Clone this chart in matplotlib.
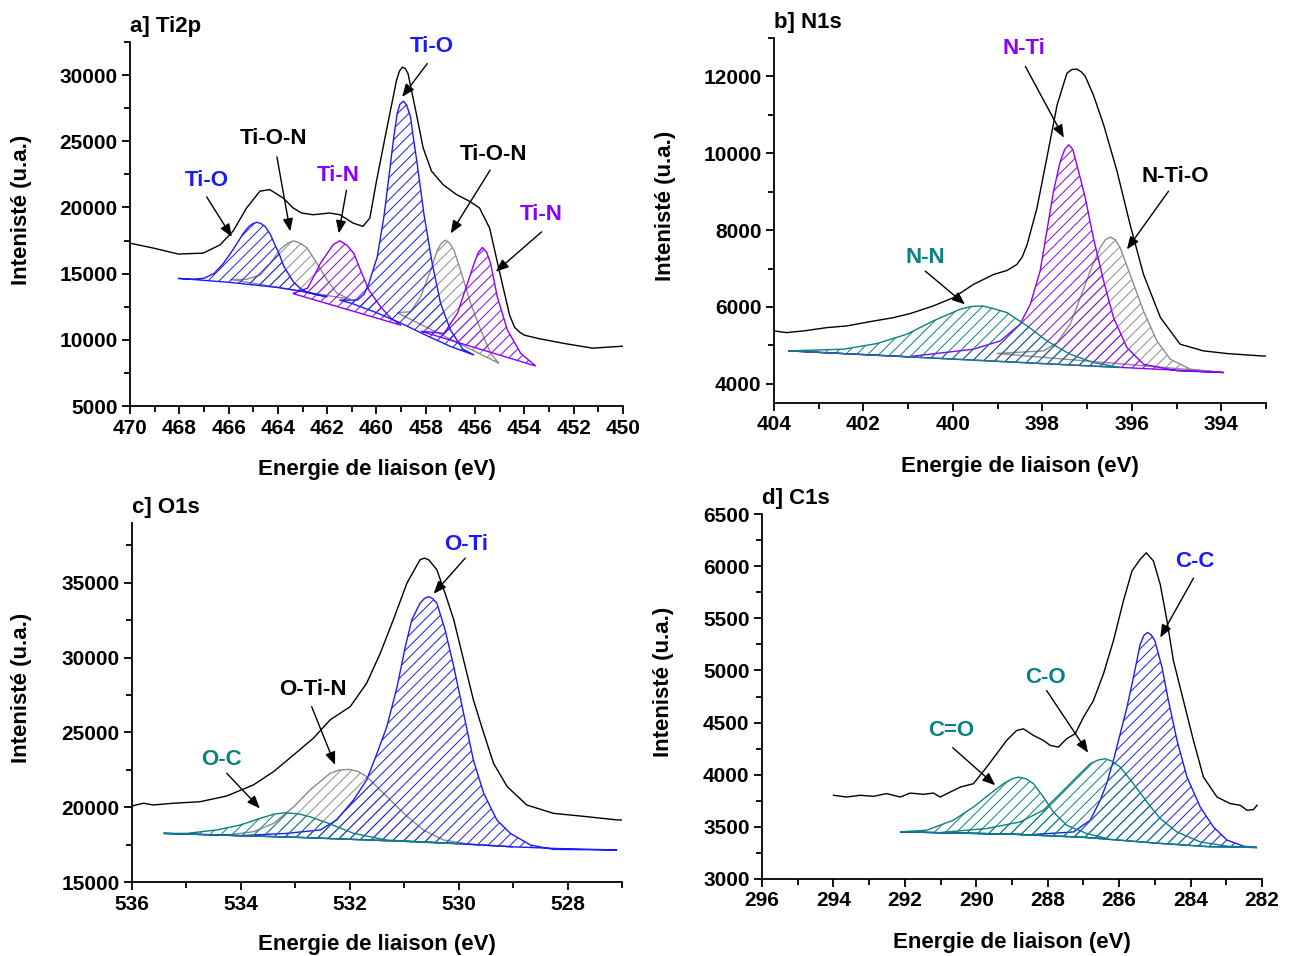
import numpy as np
import matplotlib
matplotlib.use('Agg')
import matplotlib.pyplot as plt
from matplotlib.ticker import MultipleLocator

# ---------------- data (read off the XPS fits) ----------------
# a] Ti2p
a_env_x = [470.0, 469.05, 468.04, 467.03, 466.35, 465.82, 465.27, 464.73, 464.33, 463.79, 463.38, 463.04,
           462.57, 461.90, 461.49, 460.95, 460.55, 460.27, 460.00, 459.60, 459.19, 459.07, 458.95, 458.83,
           458.72, 458.38, 458.11, 457.77, 457.30, 456.76, 456.23, 455.82, 455.41, 455.01, 454.60, 454.40,
           454.20, 454.0, 453.39, 452.31, 451.23, 450.0]
a_env_y = [17300, 16930, 16480, 16550, 17170, 18210, 19960, 21230, 21350, 20720, 19960, 19580,
           19450, 19580, 19450, 18820, 18570, 19200, 22000, 25790, 29590, 30300, 30600, 30500,
           30100, 27050, 24520, 22750, 21730, 20980, 20470, 19960, 18440, 15150, 11860, 10950,
           10590, 10350, 10080, 9700, 9370, 9520]
a_blue_base_x = [468.04, 466.0, 464.0, 463.0, 462.0, 461.0, 460.0, 459.0, 458.0, 457.0, 456.04]
a_blue_base_y = [14640, 14350, 13950, 13650, 13250, 12750, 12050, 11250, 10350, 9500, 8850]
a_tio1_x = [468.04, 467.5, 467.0, 466.6, 466.21, 465.9, 465.66, 465.4, 465.19, 465.0, 464.85, 464.7,
            464.51, 464.3, 464.17, 463.95, 463.77, 463.55, 463.36, 463.1, 462.82, 462.4, 462.0]
a_tio1_y = [14640, 14570, 14650, 15000, 15770, 16600, 17280, 18050, 18540, 18800, 18870, 18800,
            18540, 17950, 17380, 16500, 15600, 14900, 14350, 13900, 13600, 13400, 13250]
a_tio2_x = [461.5, 460.78, 460.5, 460.31, 459.97, 459.70, 459.43, 459.3, 459.16, 459.05, 458.91, 458.78,
            458.62, 458.5, 458.35, 458.08, 457.74, 457.40, 457.00, 456.50, 456.04]
a_tio2_y = [13000, 13000, 13450, 14260, 16270, 19290, 23320, 25300, 27100, 27800, 28030, 27750,
            26840, 25200, 23320, 19550, 15770, 12750, 10740, 9300, 8850]
a_gray1_base_x = [465.93, 461.06]
a_gray1_base_y = [14560, 13060]
a_tion1_x = [465.93, 465.3, 464.72, 464.31, 463.9, 463.6, 463.36, 463.1, 462.82, 462.41, 462.0, 461.6, 461.06]
a_tion1_y = [14560, 14560, 14890, 15770, 16850, 17300, 17480, 17300, 16950, 15770, 14510, 13510, 13060]
a_gray2_base_x = [459.16, 455.03]
a_gray2_base_y = [12050, 8220]
a_tion2_x = [459.16, 458.62, 458.21, 457.80, 457.53, 457.37, 457.2, 457.03, 456.86, 456.59, 456.18, 455.77,
             455.37, 455.03]
a_tion2_y = [12050, 12120, 13250, 15270, 16780, 17300, 17530, 17300, 16780, 15270, 12750, 10740,
             8980, 8220]
a_purple_base_x = [463.4, 459.0, 453.54]
a_purple_base_y = [13500, 11100, 8020]
a_tin1_x = [463.4, 462.8, 462.55, 462.28, 462.0, 461.75, 461.49, 461.2, 460.92, 460.65, 460.31, 459.84,
            459.4, 459.0]
a_tin1_y = [13500, 13900, 14760, 15770, 16530, 17200, 17480, 17150, 16530, 15270, 13760, 12500,
            11600, 11100]
a_tin2_x = [458.2, 457.26, 456.72, 456.31, 456.04, 455.87, 455.7, 455.53, 455.37, 455.1, 454.69, 454.15, 453.54]
a_tin2_y = [10650, 10490, 12000, 14260, 15770, 16600, 16980, 16600, 15770, 13250, 10740, 8980, 8020]
a_labels = ['Ti-O', 'Ti-O-N', 'Ti-N', 'Ti-O', 'Ti-O-N', 'Ti-N']
a_label_x = [466.89, 464.18, 461.55, 457.76, 455.26, 453.30]
a_label_y = [22060, 25210, 22440, 32180, 24030, 19500]
a_arrow_from = [(466.89, 20800), (464.04, 23820), (461.22, 21300), (457.94, 30870), (455.39, 22820), (453.30, 18160)]
a_arrow_to = [(465.87, 17780), (463.50, 18190), (461.53, 18040), (458.96, 28350), (456.99, 18040), (455.16, 15140)]

# b] N1s
b_env_x = [404.0, 403.72, 403.34, 402.82, 402.37, 401.85, 401.33, 400.96, 400.44, 399.99, 399.54, 399.09,
           398.79, 398.57, 398.45, 398.34, 398.12, 397.90, 397.67, 397.45, 397.34, 397.23, 397.13, 397.04,
           396.86, 396.63, 396.33, 396.04, 395.74, 395.36, 394.92, 394.40, 393.87, 393.13, 393.0]
b_env_y = [5376, 5332, 5376, 5462, 5506, 5618, 5722, 5826, 6026, 6241, 6587, 6846,
           6950, 7106, 7300, 7626, 8578, 9877, 11260, 12085, 12180, 12190, 12120, 12000,
           11520, 10740, 9530, 8150, 6850, 5722, 5030, 4857, 4787, 4727, 4720]
b_base_x = [403.68, 393.95]
b_base_y = [4857, 4293]
b_nn_x = [403.68, 402.45, 401.70, 401.03, 400.44, 399.84, 399.6, 399.35, 399.1, 398.79, 398.34, 397.90,
          397.38, 396.86, 396.26]
b_nn_y = [4857, 4900, 5047, 5290, 5636, 5940, 6010, 6026, 5960, 5852, 5506, 5117,
          4770, 4553, 4423]
b_nti_x = [403.68, 401.0, 399.54, 398.94, 398.50, 398.27, 398.05, 397.90, 397.75, 397.60, 397.5, 397.41,
           397.32, 397.23, 397.04, 396.86, 396.63, 396.41, 396.11, 395.74, 394.99, 393.95]
b_nti_y = [4857, 4705, 4900, 5117, 5550, 6070, 6935, 7973, 9012, 9790, 10100, 10223,
           10100, 9705, 8838, 7800, 6675, 5722, 4943, 4510, 4338, 4293]
b_gray_base_x = [399.02, 393.95]
b_gray_base_y = [4790, 4293]
b_ntio_x = [399.02, 397.97, 397.67, 397.38, 397.15, 396.93, 396.71, 396.59, 396.48, 396.37, 396.26, 396.04,
            395.74, 395.44, 395.14, 394.69, 393.95]
b_ntio_y = [4790, 4857, 5073, 5550, 6241, 6935, 7540, 7750, 7818, 7750, 7540, 6850,
            5896, 5117, 4640, 4380, 4293]
b_labels = ['N-Ti', 'N-Ti-O', 'N-N']
b_label_x = [398.42, 395.03, 400.62]
b_label_y = [12734, 9383, 7280]
b_arrow_from = [(398.38, 12260), (395.18, 9012), (400.62, 6935)]
b_arrow_to = [(397.52, 10404), (396.11, 7498), (399.73, 6067)]

# c] O1s
c_env_x = [536.0, 535.79, 535.61, 535.24, 534.75, 534.26, 533.77, 533.40, 533.03, 532.67, 532.36, 531.99,
           531.69, 531.44, 531.20, 530.95, 530.71, 530.63, 530.55, 530.40, 530.25, 530.09, 529.91, 529.73,
           529.54, 529.36, 529.11, 528.75, 528.26, 527.76, 527.09, 527.0]
c_env_y = [20080, 20265, 20150, 20265, 20367, 20750, 21490, 22380, 23500, 24610, 25840, 26730,
           28290, 30290, 32530, 34980, 36540, 36650, 36540, 35870, 34310, 32530, 29850, 27180,
           24950, 22940, 21380, 20150, 19590, 19410, 19150, 19150]
c_base_x = [535.42, 533.0, 531.0, 530.0, 529.0, 528.2, 527.09]
c_base_y = [18250, 17990, 17720, 17560, 17350, 17240, 17150]
c_oc_x = [535.42, 534.99, 534.44, 534.01, 533.65, 533.4, 533.19, 532.95, 532.73, 532.36, 531.93, 531.32,
          530.6, 530.0]
c_oc_y = [18250, 18250, 18480, 18810, 19250, 19530, 19630, 19560, 19360, 18880, 18250, 17800,
          17680, 17560]
c_otin_x = [534.3, 533.77, 533.40, 533.03, 532.73, 532.36, 532.2, 532.02, 531.85, 531.69, 531.38, 531.01,
            530.65, 530.28, 529.8, 529.0]
c_otin_y = [18120, 18360, 18920, 20030, 21150, 22270, 22480, 22530, 22400, 22040, 20930, 19590,
            18480, 17810, 17530, 17350]
c_oti_x = [535.42, 534.0, 533.16, 532.54, 532.24, 531.93, 531.69, 531.50, 531.32, 531.13, 530.98, 530.86,
           530.71, 530.63, 530.55, 530.48, 530.40, 530.25, 530.09, 529.91, 529.73, 529.54, 529.30, 529.05,
           528.68, 528.26, 527.09]
c_oti_y = [18250, 18100, 18250, 18480, 19150, 20490, 21820, 23600, 25380, 28060, 30740, 32530,
           33640, 33950, 34080, 33950, 33640, 31860, 29400, 26280, 23160, 20930, 19150, 18250,
           17470, 17180, 17140]
c_labels = ['O-Ti', 'O-Ti-N', 'O-C']
c_label_x = [529.86, 532.68, 534.35]
c_label_y = [37550, 27890, 23160]
c_arrow_from = [(529.88, 36650), (532.70, 26720), (534.26, 22270)]
c_arrow_to = [(530.46, 34270), (532.27, 22830), (533.65, 19920)]

# d] C1s
d_env_x = [294.0, 293.63, 293.25, 292.88, 292.51, 292.13, 291.85, 291.48, 291.20, 291.01, 290.73, 290.45,
           290.08, 289.71, 289.43, 289.15, 288.87, 288.68, 288.40, 288.12, 287.93, 287.70, 287.47, 287.23,
           287.0, 286.72, 286.44, 286.16, 285.88, 285.64, 285.41, 285.24, 285.04, 284.85, 284.66, 284.48,
           284.20, 283.92, 283.64, 283.26, 282.89, 282.61, 282.42, 282.24, 282.14]
d_env_y = [3803, 3786, 3803, 3793, 3819, 3786, 3824, 3812, 3824, 3786, 3834, 3881,
           3914, 4073, 4200, 4329, 4424, 4440, 4377, 4329, 4281, 4265, 4345, 4393,
           4551, 4711, 4966, 5285, 5667, 5954, 6066, 6128, 6050, 5826, 5476, 5094,
           4711, 4329, 3978, 3786, 3723, 3707, 3659, 3665, 3707]
d_base_x = [292.13, 289.0, 287.0, 285.0, 283.5, 282.14]
d_base_y = [3452, 3430, 3400, 3345, 3310, 3302]
d_co2_x = [292.13, 291.39, 290.64, 290.08, 289.61, 289.24, 289.0, 288.82, 288.6, 288.40, 288.12, 287.84,
           287.47, 286.91, 286.3]
d_co2_y = [3452, 3468, 3564, 3690, 3818, 3914, 3960, 3977, 3960, 3914, 3786, 3642,
           3516, 3436, 3385]
d_co_x = [291.0, 289.71, 288.77, 288.12, 287.65, 287.19, 286.81, 286.6, 286.39, 286.2, 285.97, 285.60,
          285.22, 284.85, 284.38, 283.73, 282.98, 282.14]
d_co_y = [3446, 3484, 3547, 3660, 3818, 3977, 4105, 4140, 4153, 4130, 4073, 3914,
          3738, 3579, 3451, 3356, 3315, 3302]
d_cc_x = [292.13, 288.5, 287.28, 286.81, 286.53, 286.35, 286.16, 285.97, 285.78, 285.60, 285.41, 285.3,
          285.20, 285.1, 285.0, 284.80, 284.62, 284.38, 284.10, 283.73, 283.36, 282.98, 282.52, 282.14]
d_cc_y = [3452, 3425, 3451, 3564, 3755, 3914, 4138, 4393, 4648, 4934, 5252, 5340,
          5364, 5340, 5285, 5030, 4711, 4329, 3978, 3690, 3499, 3373, 3315, 3302]
d_labels = ['C-C', 'C-O', 'C=O']
d_label_x = [283.87, 288.07, 290.69]
d_label_y = [6040, 4934, 4424]
d_arrow_from = [(283.92, 5884), (288.03, 4807), (290.66, 4259)]
d_arrow_to = [(284.85, 5315), (286.87, 4211), (289.47, 3899)]

# ---------------- style ----------------
plt.rcParams['font.family'] = ['Liberation Sans', 'DejaVu Sans']
plt.rcParams['font.weight'] = 'bold'
plt.rcParams['axes.labelweight'] = 'bold'
plt.rcParams['hatch.linewidth'] = 0.7

BLUE = '#1a1aff'
PURPLE = '#8a00ff'
GRAY = '#8c8c8c'
TEAL = '#0b8080'

W, H = 1289, 956
fig = plt.figure(figsize=(W / 100, H / 100), dpi=100)


def make_axes(left, right, top, bottom):
    # axes box given in picture pixels
    return fig.add_axes([left / W, (H - bottom) / H, (right - left) / W, (bottom - top) / H])


def draw_peak(ax, x, y, bx, by, color):
    x = np.asarray(x, float)
    y = np.asarray(y, float)
    bx = np.asarray(bx, float)
    by = np.asarray(by, float)
    inside = (bx < x.max()) & (bx > x.min())
    order = np.argsort(bx[inside])
    px = np.concatenate([x, bx[inside][order]])
    py = np.concatenate([y, by[inside][order]])
    ax.fill(px, py, facecolor='none', edgecolor=color, hatch='///', linewidth=1.0)


def setup(ax, xlim, ylim, ymajor, yminor, title, ylab_x):
    ax.set_xlim(*xlim)
    ax.set_ylim(*ylim)
    ax.xaxis.set_major_locator(MultipleLocator(2))
    ax.xaxis.set_minor_locator(MultipleLocator(1))
    ax.yaxis.set_major_locator(MultipleLocator(ymajor))
    ax.yaxis.set_minor_locator(MultipleLocator(yminor))
    for side in ['top', 'right']:
        ax.spines[side].set_visible(False)
    for side in ['left', 'bottom']:
        ax.spines[side].set_linewidth(1.3)
    ax.tick_params(which='major', direction='out', length=6, width=1.3, labelsize=15, pad=3)
    ax.tick_params(which='minor', direction='out', length=4, width=1.3)
    ax.set_xlabel('Energie de liaison (eV)', fontsize=16, fontweight='bold')
    ax.set_ylabel('Intenisté (u.a.)', fontsize=16, fontweight='bold')
    ax.xaxis.set_label_coords(0.5, -0.145)
    ax.yaxis.set_label_coords(ylab_x, 0.54)
    ax.set_title(title, loc='left', fontsize=16, fontweight='bold', pad=7)


def add_labels(ax, labels, lx, ly, arr_from, arr_to, colors):
    for txt, x, y, s, e, col in zip(labels, lx, ly, arr_from, arr_to, colors):
        ax.text(x, y, txt, color=col, fontsize=16, fontweight='bold', ha='center', va='center')
        ax.annotate('', xy=e, xytext=s,
                    arrowprops=dict(arrowstyle='-|>,head_length=0.55,head_width=0.22', color='black',
                                    lw=1.0, shrinkA=0, shrinkB=0, mutation_scale=14))


# a] Ti2p
ax = make_axes(130, 623, 42, 406)
draw_peak(ax, a_tion1_x, a_tion1_y, a_gray1_base_x, a_gray1_base_y, GRAY)
draw_peak(ax, a_tion2_x, a_tion2_y, a_gray2_base_x, a_gray2_base_y, GRAY)
draw_peak(ax, a_tin1_x, a_tin1_y, a_purple_base_x, a_purple_base_y, PURPLE)
draw_peak(ax, a_tin2_x, a_tin2_y, a_purple_base_x, a_purple_base_y, PURPLE)
draw_peak(ax, a_tio1_x, a_tio1_y, a_blue_base_x, a_blue_base_y, BLUE)
draw_peak(ax, a_tio2_x, a_tio2_y, a_blue_base_x, a_blue_base_y, BLUE)
ax.plot(a_env_x, a_env_y, color='black', lw=1.0)
setup(ax, (470, 450), (5000, 32500), 5000, 2500, 'a] Ti2p', -0.199)
add_labels(ax, a_labels, a_label_x, a_label_y, a_arrow_from, a_arrow_to,
           [BLUE, 'black', PURPLE, BLUE, 'black', PURPLE])

# b] N1s
ax = make_axes(774, 1266, 38, 403)
draw_peak(ax, b_ntio_x, b_ntio_y, b_gray_base_x, b_gray_base_y, GRAY)
draw_peak(ax, b_nti_x, b_nti_y, b_base_x, b_base_y, PURPLE)
draw_peak(ax, b_nn_x, b_nn_y, b_base_x, b_base_y, TEAL)
ax.plot(b_env_x, b_env_y, color='black', lw=1.0)
setup(ax, (404, 393), (3500, 13000), 2000, 1000, 'b] N1s', -0.199)
add_labels(ax, b_labels, b_label_x, b_label_y, b_arrow_from, b_arrow_to, [PURPLE, 'black', TEAL])

# c] O1s
ax = make_axes(132, 622, 523, 882)
draw_peak(ax, c_otin_x, c_otin_y, c_base_x, c_base_y, GRAY)
draw_peak(ax, c_oti_x, c_oti_y, c_base_x, c_base_y, BLUE)
draw_peak(ax, c_oc_x, c_oc_y, c_base_x, c_base_y, TEAL)
ax.plot(c_env_x, c_env_y, color='black', lw=1.0)
setup(ax, (536, 527), (15000, 39000), 5000, 2500, 'c] O1s', -0.204)
add_labels(ax, c_labels, c_label_x, c_label_y, c_arrow_from, c_arrow_to, [BLUE, 'black', TEAL])

# d] C1s
ax = make_axes(762, 1262, 514, 879)
draw_peak(ax, d_cc_x, d_cc_y, d_base_x, d_base_y, BLUE)
draw_peak(ax, d_co_x, d_co_y, d_base_x, d_base_y, TEAL)
draw_peak(ax, d_co2_x, d_co2_y, d_base_x, d_base_y, TEAL)
ax.plot(d_env_x, d_env_y, color='black', lw=1.0)
setup(ax, (296, 282), (3000, 6500), 500, 250, 'd] C1s', -0.176)
add_labels(ax, d_labels, d_label_x, d_label_y, d_arrow_from, d_arrow_to, [BLUE, TEAL, TEAL])

fig.savefig('out.png', dpi=100)
